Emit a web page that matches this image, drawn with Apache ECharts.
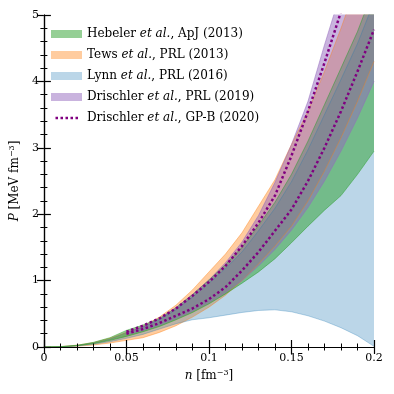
<!DOCTYPE html>
<html><head><meta charset="utf-8">
<script src="https://cdn.jsdelivr.net/npm/echarts@6/dist/echarts.min.js"></script>
<style>html,body{margin:0;padding:0;background:#fff}#c{width:394px;height:394px}</style>
</head><body><div id="c"></div>
<script>
// density grid (fm^-3)
const nGrid = [0,0.01,0.02,0.03,0.04,0.05,0.06,0.07,0.08,0.09,0.10,0.11,0.12,0.13,0.14,0.15,0.16,0.17,0.18,0.19,0.20];
// Hebeler et al., ApJ (2013)
const hebelerLow  = [0,0.004,0.02,0.05,0.10,0.16,0.23,0.31,0.41,0.52,0.65,0.80,0.96,1.13,1.33,1.57,1.82,2.06,2.28,2.60,2.95];
const hebelerHigh = [0,0.005,0.025,0.07,0.14,0.25,0.33,0.43,0.59,0.79,1.01,1.24,1.50,1.83,2.18,2.60,3.10,3.65,4.20,4.75,5.40];
// Tews et al., PRL (2013)
const tewsLow  = [0,0.002,0.012,0.03,0.06,0.10,0.14,0.22,0.32,0.45,0.60,0.78,1.00,1.25,1.52,1.82,2.20,2.65,3.15,3.70,4.30];
const tewsHigh = [0,0.006,0.028,0.065,0.13,0.22,0.31,0.45,0.63,0.86,1.13,1.40,1.72,2.12,2.52,3.05,3.55,4.15,4.80,5.50,6.20];
// Lynn et al., PRL (2016)
const lynnLow  = [0,0.003,0.015,0.04,0.08,0.13,0.19,0.27,0.35,0.41,0.44,0.48,0.52,0.55,0.56,0.53,0.47,0.39,0.29,0.17,0.01];
const lynnHigh = [0,0.004,0.02,0.06,0.12,0.22,0.30,0.41,0.56,0.75,0.96,1.18,1.43,1.75,2.09,2.49,2.97,3.50,4.03,4.57,5.20];
// Drischler et al., PRL (2019)
const drischlerLow  = [null,null,null,null,null,0.19,0.25,0.33,0.43,0.54,0.67,0.82,1.00,1.22,1.47,1.76,2.10,2.50,2.95,3.45,4.00];
const drischlerHigh = [null,null,null,null,null,0.22,0.31,0.43,0.59,0.79,1.01,1.27,1.58,1.98,2.48,3.05,3.70,4.55,5.35,6.10,7.00];
// Drischler et al., GP-B (2020)
const gpbUpper = [null,null,null,null,null,0.23,0.32,0.43,0.58,0.77,0.98,1.22,1.52,1.87,2.28,2.88,3.55,4.28,5.05,5.80,6.60];
const gpbLower = [null,null,null,null,null,0.20,0.27,0.36,0.47,0.58,0.72,0.90,1.15,1.43,1.75,2.07,2.50,3.00,3.55,4.15,4.78];
const xTicks = [0,0.05,0.1,0.15,0.2];
const yTicks = [0,1,2,3,4,5];

const names = {
  heb: 'Hebeler et al., ApJ (2013)',
  tews: 'Tews et al., PRL (2013)',
  lynn: 'Lynn et al., PRL (2016)',
  dri: 'Drischler et al., PRL (2019)',
  gpb: 'Drischler et al., GP-B (2020)'
};
const richNames = {};
richNames[names.heb] = 'Hebeler {it|et al.}, ApJ (2013)';
richNames[names.tews] = 'Tews {it|et al.}, PRL (2013)';
richNames[names.lynn] = 'Lynn {it|et al.}, PRL (2016)';
richNames[names.dri] = 'Drischler {it|et al.}, PRL (2019)';
richNames[names.gpb] = 'Drischler {it|et al.}, GP-B (2020)';

const FONT = 'DejaVu Serif';
// value first, density second (so that stacking acts on the value dimension)
function pairsYX(arr){ return nGrid.map((x,i)=>[arr[i]==null?'-':arr[i], x]); }
function diffsYX(lo,hi){ return nGrid.map((x,i)=>[(lo[i]==null||hi[i]==null)?'-':+(hi[i]-lo[i]).toFixed(4), x]); }
function pairs(arr){ return nGrid.map((x,i)=>[x, arr[i]==null?'-':arr[i]]); }

function band(key, lo, hi, color){
  return [
    {name: key+'_base', type:'line', stack:key, data:pairsYX(lo), encode:{x:1, y:0}, symbol:'none', silent:true,
     lineStyle:{color:color, width:1}, z:2},
    {name: names[key], type:'line', stack:key, data:diffsYX(lo,hi), encode:{x:1, y:0}, symbol:'none', silent:true,
     lineStyle:{color:color, width:1}, areaStyle:{color:color, opacity:1}, itemStyle:{color:color}, z:2}
  ];
}
const cGreen='rgba(44,160,44,0.5)', cOrange='rgba(255,127,14,0.4)', cBlue='rgba(31,119,180,0.3)', cPurple='rgba(148,103,189,0.5)';
const dotted = {color:'#800080', width:2.5, type:[2.5,2.5], cap:'butt'};

const series = [].concat(
  band('tews', tewsLow, tewsHigh, cOrange),
  band('lynn', lynnLow, lynnHigh, cBlue),
  band('heb', hebelerLow, hebelerHigh, cGreen),
  band('dri', drischlerLow, drischlerHigh, cPurple),
  [
    {name:names.gpb, type:'line', data:pairs(gpbUpper), symbol:'none', showSymbol:false, silent:true,
     lineStyle:dotted, itemStyle:{color:'#800080'}, z:3},
    {name:'gpb_low', type:'line', data:pairs(gpbLower), symbol:'none', showSymbol:false, silent:true,
     lineStyle:dotted, itemStyle:{color:'#800080'}, z:3}
  ]
);

// dotted legend glyph (tiny corner marks only fix the glyph's bounding box to the item size)
const dotIcon = 'path://M0,0h0.01v0.01h-0.01z M30.99,7.99h0.01v0.01h-0.01z' +
  ' M4.5,2.75h2.5v2.5h-2.5z M9.5,2.75h2.5v2.5h-2.5z M14.5,2.75h2.5v2.5h-2.5z M19.5,2.75h2.5v2.5h-2.5z M24.5,2.75h2.5v2.5h-2.5z';

const tickStyle = {show:true, inside:true, length:7, lineStyle:{color:'#000', width:1.2}};
const xMinor = {show:true, splitNumber:5, length:3.5, lineStyle:{color:'#000', width:1}};
const yMinor = {show:true, splitNumber:5, length:3.5, lineStyle:{color:'#000', width:1}};
const axLine = {show:true, lineStyle:{color:'#000', width:1.2}};
const nameRich = {it:{fontFamily:FONT, fontSize:12, fontStyle:'italic', color:'#000'},
                  sup:{fontFamily:FONT, fontSize:8, color:'#000', verticalAlign:'top', lineHeight:14}};

const chart = echarts.init(document.getElementById('c'), null, {renderer:'canvas'});
chart.setOption({
  animation:false,
  backgroundColor:'#fff',
  grid:{left:42, right:20, top:15, bottom:47},
  legend:{
    orient:'vertical', left:46, top:22, itemWidth:31, itemHeight:8, itemGap:7, itemTextGap:9,
    selectedMode:false,
    data:[
      {name:names.heb, icon:'rect', itemStyle:{color:cGreen}},
      {name:names.tews, icon:'rect', itemStyle:{color:cOrange}},
      {name:names.lynn, icon:'rect', itemStyle:{color:cBlue}},
      {name:names.dri, icon:'rect', itemStyle:{color:cPurple}},
      {name:names.gpb, icon:dotIcon, itemStyle:{color:'#800080', borderWidth:0}}
    ],
    formatter: name => richNames[name] || name,
    textStyle:{fontFamily:FONT, fontSize:12, color:'#000', lineHeight:14,
      rich:{it:{fontFamily:FONT, fontSize:12, fontStyle:'italic', color:'#000'}}}
  },
  xAxis:[
    {type:'value', min:xTicks[0], max:xTicks[xTicks.length-1], interval:xTicks[1]-xTicks[0], position:'bottom', z:10,
     axisLine:axLine, axisTick:tickStyle, minorTick:xMinor, splitLine:{show:false},
     axisLabel:{margin:6, fontFamily:FONT, fontSize:11, color:'#000', formatter:v=>String(+v.toFixed(2))},
     name:'{it|n} [fm{sup|−3}]', nameLocation:'middle', nameGap:22,
     nameTextStyle:{fontFamily:FONT, fontSize:12, color:'#000', rich:nameRich}},
    {type:'value', min:xTicks[0], max:xTicks[xTicks.length-1], interval:xTicks[1]-xTicks[0], position:'top', z:10,
     axisLine:axLine, axisTick:tickStyle, minorTick:xMinor, splitLine:{show:false}, axisLabel:{show:false}}
  ],
  yAxis:[
    {type:'value', min:yTicks[0], max:yTicks[yTicks.length-1], interval:1, position:'left', z:10,
     axisLine:axLine, axisTick:tickStyle, minorTick:yMinor, splitLine:{show:false},
     axisLabel:{margin:5, fontFamily:FONT, fontSize:11, color:'#000'},
     name:'{it|P} [MeV fm{sup|−3}]', nameLocation:'middle', nameGap:12, nameRotate:90,
     nameTextStyle:{fontFamily:FONT, fontSize:12, color:'#000', rich:nameRich}},
    {type:'value', min:yTicks[0], max:yTicks[yTicks.length-1], interval:1, position:'right', z:10,
     axisLine:axLine, axisTick:tickStyle, minorTick:yMinor, splitLine:{show:false}, axisLabel:{show:false}}
  ],
  series: series
});
</script>
</body></html>
